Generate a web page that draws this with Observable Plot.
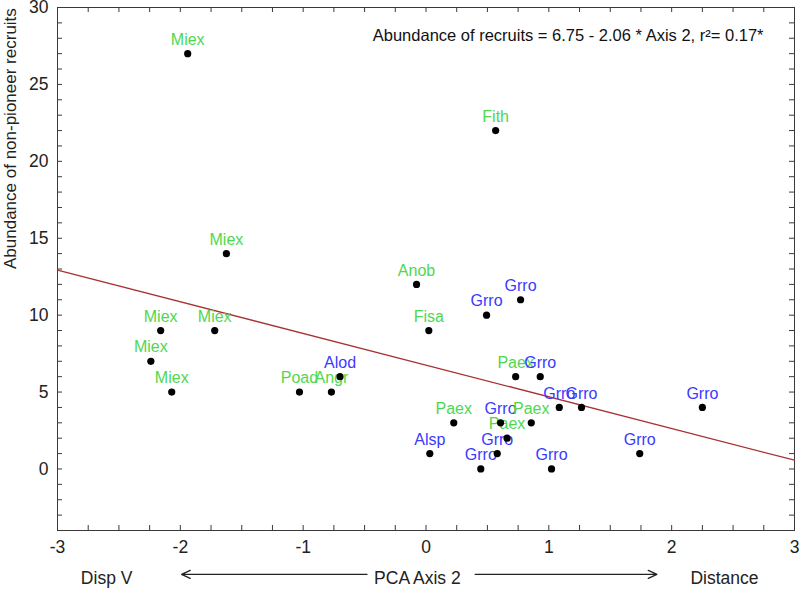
<!DOCTYPE html>
<html><head><meta charset="utf-8">
<script src="https://cdn.jsdelivr.net/npm/d3@7"></script>
<script src="https://cdn.jsdelivr.net/npm/@observablehq/plot@0.6"></script>
<style>body{margin:0;background:#fff} svg{font-family:"Liberation Sans",Arial,sans-serif}</style>
</head><body><div id="chart"></div>
<script>
const species = ["Miex","Miex","Miex","Miex","Miex","Miex","Poad","Angr","Alod","Fith","Anob","Fisa","Grro","Grro","Paex","Grro","Grro","Grro","Grro","Paex","Grro","Paex","Paex","Alsp","Grro","Grro","Grro","Grro"];
const axis2 = [-1.94,-1.625,-2.16,-1.72,-2.24,-2.07,-1.03,-0.77,-0.70,0.567,-0.077,0.023,0.77,0.493,0.73,0.93,1.085,1.266,2.25,0.226,0.607,0.857,0.66,0.031,0.58,1.74,0.446,1.022];
const recruits = [27,14,9,9,7,5,5,5,6,22,12,9,11,10,6,6,4,4,4,3,3,3,2,1,1,1,0,0];
const blueSpecies = ["Grro","Alod","Alsp"];
const xTicks = [-3,-2,-1,0,1,2,3];
const yTicks = [0,5,10,15,20,25,30];
const xDomain = [-3,3];
const yDomain = [-4,30];
const xMinor = d3.range(-3, 3.001, 0.25);
const yMinor = d3.range(-4, 30.001, 1);
const intercept = 6.75, slope = -2.06;
const equation = "Abundance of recruits = 6.75 - 2.06 * Axis 2, r\u00b2= 0.17*";
const yTitle = "Abundance of non-pioneer recruits";
const xTitles = ["Disp V", "PCA Axis 2", "Distance"];
const xTitlePos = [-2.6, -0.07, 2.43];
const arrowFrom = [-0.48, 0.40];
const arrowTo = [-1.99, 1.88];
const arrowY = -6.85;

const data = species.map((s,i)=>({s, x: axis2[i], y: recruits[i], group: blueSpecies.includes(s) ? "groupB" : "groupA"}));
const W = 800, H = 589, mL = 57, mR = 6, mT = 7, mB = 59;
const fw = W - mL - mR, fh = H - mT - mB;
const tk = 5;
const ink = "#3a3a3a";
const fmt = d => String(d);

const chart = Plot.plot({
  width: W, height: H,
  marginLeft: mL, marginRight: mR, marginTop: mT, marginBottom: mB,
  x: {domain: xDomain},
  y: {domain: yDomain},
  color: {domain: ["groupA","groupB"], range: ["#4fd84f","#3a3aff"]},
  style: {fontFamily: "Liberation Sans, Arial, sans-serif", fontSize: "17.5px", background: "white", color: "#222", overflow: "visible"},
  marks: [
    Plot.tickX(xMinor, {x: d=>d, insetTop: fh - tk, stroke: ink}),
    Plot.tickX(xMinor, {x: d=>d, insetBottom: fh - tk, stroke: ink}),
    Plot.tickY(yMinor, {y: d=>d, insetRight: fw - tk, stroke: ink}),
    Plot.tickY(yMinor, {y: d=>d, insetLeft: fw - tk, stroke: ink}),
    Plot.frame({stroke: ink}),
    Plot.axisX(xTicks, {tickSize: 0, tickPadding: 10, label: null, fontSize: 17.5, tickFormat: fmt}),
    Plot.axisY(yTicks, {tickSize: 0, tickPadding: 9, label: null, fontSize: 17.5, tickFormat: fmt}),
    Plot.line(xDomain, {x: d=>d, y: d=>intercept + slope*d, stroke: "#a83232", strokeWidth: 1.3}),
    Plot.text(data, {x: "x", y: "y", text: "s", fill: "group", dy: -14, fontSize: 16}),
    Plot.dot(data, {x: "x", y: "y", r: 3.6, fill: "black"}),
    Plot.text([equation], {frameAnchor: "top-right", textAnchor: "end", lineAnchor: "middle", dx: -31, dy: 28, fontSize: 16.5, fill: "#111"}),
    Plot.text([yTitle], {frameAnchor: "left", rotate: -90, dx: -47, fontSize: 17, fill: "#222"}),
    Plot.text(xTitles, {x: (d,i)=>xTitlePos[i], frameAnchor: "bottom", dy: 48, lineAnchor: "middle", fontSize: 17.5, fill: "#222"}),
    Plot.arrow(arrowFrom.map((x1,i)=>({x1, x2: arrowTo[i]})), {x1: "x1", x2: "x2", y1: ()=>arrowY, y2: ()=>arrowY, stroke: "#222", strokeWidth: 1.3, headLength: 11, headAngle: 50})
  ]
});
document.getElementById("chart").appendChild(chart);
</script>
</body></html>
